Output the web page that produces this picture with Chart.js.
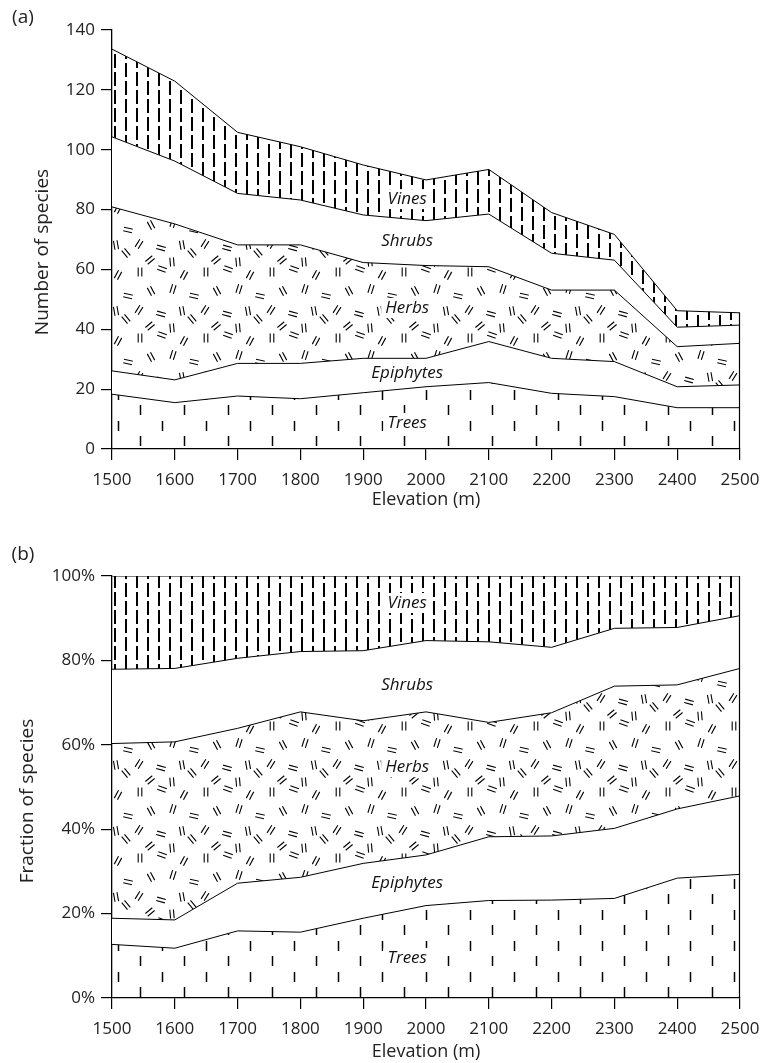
<!DOCTYPE html>
<html><head><meta charset="utf-8">
<script src="https://cdn.jsdelivr.net/npm/chart.js@4.4.0/dist/chart.umd.min.js"></script>
<style>
html,body{margin:0;padding:0;background:#fff;}
#wrap{position:relative;width:760px;height:1063px;background:#fff;}
#ca{position:absolute;left:0;top:0;width:760px;height:520px;}
#cb{position:absolute;left:0;top:520px;width:760px;height:543px;}
</style></head><body>
<div id="wrap"><canvas id="ca" width="760" height="520"></canvas><canvas id="cb" width="760" height="543"></canvas></div>
<script>
// ---------------- data ----------------
const seriesNames = ['Trees', 'Epiphytes', 'Herbs', 'Shrubs', 'Vines'];
const elevations = [1500, 1600, 1700, 1800, 1900, 2000, 2100, 2200, 2300, 2400, 2500];
const xTicks = [1500, 1600, 1700, 1800, 1900, 2000, 2100, 2200, 2300, 2400, 2500];

// (a) number of species per group
const treesCount     = [18.3, 15.5, 17.7, 16.8, 18.8, 20.8, 22.2, 18.6, 17.5, 13.8, 13.8];
const epiphytesCount = [7.8, 7.6, 10.9, 11.8, 11.5, 9.5, 13.7, 11.7, 11.7, 7.0, 7.6];
const herbsCount     = [54.8, 52.1, 39.6, 39.6, 32.0, 31.0, 25.0, 22.8, 23.9, 13.4, 13.9];
const shrubsCount    = [23.4, 21.0, 17.2, 15.0, 15.9, 15.0, 17.6, 12.3, 10.0, 6.5, 6.1];
const vinesCount     = [29.3, 26.7, 20.4, 17.8, 16.7, 13.6, 14.9, 13.6, 8.6, 5.5, 4.1];
const countTicks = [0, 20, 40, 60, 80, 100, 120, 140];

// (b) fraction of species per group (%)
const treesFrac     = [12.7, 11.8, 15.9, 15.6, 18.9, 21.9, 23.1, 23.2, 23.6, 28.4, 29.3];
const epiphytesFrac = [6.2, 6.7, 11.3, 13.0, 13.0, 12.0, 15.1, 15.2, 16.6, 16.4, 18.6];
const herbsFrac     = [41.4, 42.2, 36.7, 39.2, 33.8, 33.9, 27.1, 29.2, 33.7, 29.4, 30.2];
const shrubsFrac    = [17.6, 17.4, 16.6, 14.3, 16.6, 16.9, 19.1, 15.5, 13.7, 13.6, 12.5];
const vinesFrac     = [22.1, 21.9, 19.5, 17.9, 17.7, 15.3, 15.6, 16.9, 12.4, 12.2, 9.4];
const fracTicks = [0, 20, 40, 60, 80, 100];

// in-chart group labels: elevation and value where each name sits
const labelElevation = 1970;
const labelValuesCount = [8.7, 25.4, 47.1, 69.5, 83.5];
const labelValuesFrac  = [9.5, 27.1, 54.7, 74.2, 93.6];

// ---------------- patterns ----------------
function makeTile(w, h, draw) {
  const c = document.createElement('canvas'); c.width = w; c.height = h;
  const g = c.getContext('2d'); g.strokeStyle = '#000'; g.lineCap = 'butt';
  draw(g, w, h);
  return c;
}
function vPat(ctx) {
  const t = makeTile(22, 36, (g) => {
    g.lineWidth = 2.0;
    const seg = (x, y0, y1) => { g.beginPath(); g.moveTo(x, y0); g.lineTo(x, y1); g.stroke(); };
    seg(5, 0, 14); seg(5, 18, 32);
    seg(16, -9, 5); seg(16, 9, 23); seg(16, 27, 41);
  });
  return ctx.createPattern(t, 'repeat');
}
function tPat(ctx) {
  const t = makeTile(44, 31, (g) => {
    g.lineWidth = 1.5;
    const seg = (x, y0, y1) => { g.beginPath(); g.moveTo(x, y0); g.lineTo(x, y1); g.stroke(); };
    seg(8.5, 2, 12); seg(30.5, 18, 28);
  });
  return ctx.createPattern(t, 'repeat');
}
function hPat(ctx) {
  const pairs = [[8,8,90],[30,5,160],[52,11,62],[19,27,118],[41,25,72],[62,32,168],
                 [7,46,58],[29,50,165],[50,47,100],[18,62,40],[40,64,95],[60,55,130]];
  const t = makeTile(66, 66, (g, w, h) => {
    g.lineWidth = 1.1;
    const L = 9, S = 1.8;
    for (const [cx, cy, a] of pairs) {
      const r = a * Math.PI / 180, dx = Math.cos(r), dy = -Math.sin(r);
      const nx = -dy, ny = dx;
      for (const ox of [-w, 0, w]) for (const oy of [-h, 0, h]) {
        for (const s of [-S, S]) {
          const px = cx + ox + nx * s, py = cy + oy + ny * s;
          g.beginPath(); g.moveTo(px - dx * L / 2, py - dy * L / 2); g.lineTo(px + dx * L / 2, py + dy * L / 2); g.stroke();
        }
      }
    }
  });
  return ctx.createPattern(t, 'repeat');
}

// ---------------- chart builder ----------------
const FONT = "'Open Sans', 'DejaVu Sans', sans-serif";
function buildChart(canvasId, series, ticksArr, yMax, tickFmt, yTitle, yTitlePos, panel, labelVals, topPad, xAxisH, titlePadBottom) {
  const canvas = document.getElementById(canvasId);
  const ctx = canvas.getContext('2d');
  const fills = [tPat(ctx), '#ffffff', hPat(ctx), '#ffffff', vPat(ctx)];
  const datasets = series.map((vals, i) => ({
    label: seriesNames[i],
    data: elevations.map((e, j) => ({ x: e, y: vals[j] })),
    borderColor: '#000', borderWidth: 1, pointRadius: 0, tension: 0,
    backgroundColor: fills[i], fill: i === 0 ? 'origin' : '-1'
  }));
  const deco = {
    id: 'deco',
    afterDatasetsDraw(chart) {
      const c = chart.ctx, xs = chart.scales.x, ys = chart.scales.y;
      const last = elevations.length - 1;
      const total = series.reduce((s, v) => s + v[last], 0);
      c.save();
      c.strokeStyle = '#000'; c.lineWidth = 1.2;
      const xr = Math.round(xs.getPixelForValue(elevations[last])) - 0.5;
      c.beginPath(); c.moveTo(xr, ys.getPixelForValue(total)); c.lineTo(xr, ys.getPixelForValue(0)); c.stroke();
      c.font = 'italic 17px ' + FONT; c.textAlign = 'center'; c.textBaseline = 'middle';
      labelVals.forEach((v, i) => {
        const x = xs.getPixelForValue(labelElevation), y = ys.getPixelForValue(v);
        const w = c.measureText(seriesNames[i]).width;
        c.fillStyle = '#fff'; c.fillRect(x - w / 2 - 4, y - 10, w + 8, 20);
        c.fillStyle = '#111'; c.fillText(seriesNames[i], x, y);
      });
      c.restore();
    },
    afterDraw(chart) {
      const c = chart.ctx;
      c.save();
      c.fillStyle = '#222'; c.textAlign = 'center'; c.textBaseline = 'middle';
      c.font = '19px ' + FONT;
      c.fillText(panel.text, panel.x, panel.y);
      c.translate(yTitlePos[0], yTitlePos[1]); c.rotate(-Math.PI / 2);
      c.font = '19px ' + FONT;
      c.fillText(yTitle, 0, 0);
      c.restore();
    }
  };
  return new Chart(ctx, {
    type: 'line',
    data: { datasets },
    plugins: [deco],
    options: {
      responsive: false, animation: false, devicePixelRatio: 1,
      layout: { padding: { left: 0, right: 20, top: topPad, bottom: 0 } },
      plugins: { legend: { display: false }, tooltip: { enabled: false }, filler: { propagate: false } },
      scales: {
        x: {
          type: 'linear', min: 1500, max: 2500,
          afterBuildTicks: (s) => { s.ticks = xTicks.map(v => ({ value: v })); },
          afterFit: (s) => { s.height = xAxisH; s.paddingLeft = 0; s.paddingRight = 0; },
          ticks: { callback: (v) => String(v), font: { family: FONT, size: 17 }, color: '#222', padding: 10, maxRotation: 0, autoSkip: false },
          grid: { display: true, drawOnChartArea: false, drawTicks: true, tickLength: 11, color: '#000', lineWidth: 1.2 },
          border: { display: true, color: '#000', width: 1.3 },
          title: { display: true, text: 'Elevation (m)', font: { family: FONT, size: 18 }, color: '#222', padding: { top: 0, bottom: titlePadBottom } }
        },
        y: {
          type: 'linear', stacked: true, min: 0, max: yMax,
          afterBuildTicks: (s) => { s.ticks = ticksArr.map(v => ({ value: v })); },
          afterFit: (s) => { s.width = 112; s.paddingTop = 0; s.paddingBottom = 0; },
          ticks: { callback: tickFmt, font: { family: FONT, size: 17 }, color: '#222', padding: 6 },
          grid: { display: true, drawOnChartArea: false, drawTicks: true, tickLength: 11, color: '#000', lineWidth: 1.2 },
          border: { display: true, color: '#000', width: 1.3 }
        }
      }
    }
  });
}

buildChart('ca', [treesCount, epiphytesCount, herbsCount, shrubsCount, vinesCount], countTicks, 140,
  (v) => String(v), 'Number of species', [43, 252], { text: '(a)', x: 23, y: 18 }, labelValuesCount, 30, 71, 9);
buildChart('cb', [treesFrac, epiphytesFrac, herbsFrac, shrubsFrac, vinesFrac], fracTicks, 100,
  (v) => v + '%', 'Fraction of species', [28, 281], { text: '(b)', x: 23, y: 35 }, labelValuesFrac, 56, 65, 0);
</script>
</body></html>
